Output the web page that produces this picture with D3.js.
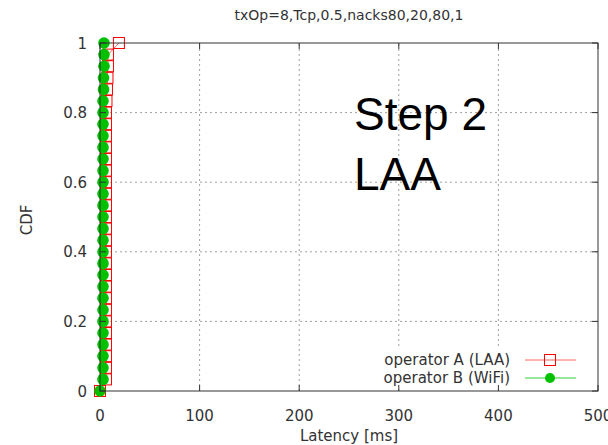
<!DOCTYPE html>
<html><head><meta charset="utf-8">
<script src="https://cdn.jsdelivr.net/npm/d3@7"></script>
<style>body{margin:0;background:#fff}svg{display:block}text{font-family:"DejaVu Sans",sans-serif;fill:#333}</style>
</head><body>
<script>
const title = "txOp=8,Tcp,0.5,nacks80,20,80,1";
const xTicks = [0,100,200,300,400,500];
const yTicks = [0,0.2,0.4,0.6,0.8,1];
const yTickLabels = ["0","0.2","0.4","0.6","0.8","1"];
const seriesNames = ["operator A (LAA)","operator B (WiFi)"];
const cdfLevels = d3.range(31).map(i=>i/30);
const laaLatency = [0,6,6,6,6,6,6,6,6,6,6,6,6,6,6,6,6,6,6,6,6,6,6,6,6,6.5,7,7.5,8,8,19];
const wifiLatency = [0,3,3,3,3,3,3,3,3,3,3,3,3,3,3,3,3,3,3,3,3,3,3,3,3,3,3.5,3.5,4,4,4];

const W=608,H=445;
const svg=d3.select("body").append("svg").attr("width",W).attr("height",H);
const x=d3.scaleLinear().domain([0,500]).range([100,598]);
const y=d3.scaleLinear().domain([0,1]).range([391,43]);

// grid
const g=svg.append("g");
g.selectAll("line.gx").data(xTicks.slice(1,-1)).enter().append("line")
 .attr("x1",d=>x(d)).attr("x2",d=>x(d)).attr("y1",y(0)).attr("y2",y(1))
 .attr("stroke","#a0a0a0").attr("stroke-dasharray","2,3");
g.selectAll("line.gy").data(yTicks.slice(1,-1)).enter().append("line")
 .attr("x1",x(0)).attr("x2",x(500)).attr("y1",d=>y(d)).attr("y2",d=>y(d))
 .attr("stroke","#a0a0a0").attr("stroke-dasharray","2,3");

// legend background
svg.append("rect").attr("x",376).attr("y",347).attr("width",220).attr("height",42).attr("fill","#fff");

// data
const laa=cdfLevels.map((c,i)=>[laaLatency[i],c]);
const wifi=cdfLevels.map((c,i)=>[wifiLatency[i],c]);
const line=d3.line().x(d=>x(d[0])).y(d=>y(d[1]));
svg.append("path").attr("d",line(laa)).attr("fill","none").attr("stroke","#ff0000").attr("stroke-opacity",0.6);
svg.selectAll("rect.laa").data(laa).enter().append("rect")
 .attr("x",d=>x(d[0])-5.5).attr("y",d=>y(d[1])-5.5).attr("width",11).attr("height",11)
 .attr("fill","none").attr("stroke","#ff0000");
svg.append("path").attr("d",line(wifi)).attr("fill","none").attr("stroke","#00c000").attr("stroke-opacity",0.8);
svg.selectAll("circle.wifi").data(wifi).enter().append("circle")
 .attr("cx",d=>x(d[0])).attr("cy",d=>y(d[1])).attr("r",5.8).attr("fill","#00c000");

// frame
svg.append("rect").attr("x",x(0)).attr("y",y(1)).attr("width",x(500)-x(0)).attr("height",y(0)-y(1))
 .attr("fill","none").attr("stroke","#333");
// ticks
const tk=svg.append("g").attr("stroke","#333");
xTicks.forEach(t=>{
  tk.append("line").attr("x1",x(t)).attr("x2",x(t)).attr("y1",y(0)).attr("y2",y(0)-6);
  tk.append("line").attr("x1",x(t)).attr("x2",x(t)).attr("y1",y(1)).attr("y2",y(1)+6);
});
yTicks.forEach(t=>{
  tk.append("line").attr("x1",x(0)).attr("x2",x(0)+6).attr("y1",y(t)).attr("y2",y(t));
  tk.append("line").attr("x1",x(500)).attr("x2",x(500)-6).attr("y1",y(t)).attr("y2",y(t));
});
// labels
svg.selectAll("text.xl").data(xTicks).enter().append("text")
 .attr("x",d=>x(d)).attr("y",421).attr("text-anchor","middle").attr("font-size",15).text(d=>d);
svg.selectAll("text.yl").data(yTicks).enter().append("text")
 .attr("x",87).attr("y",d=>y(d)+5.5).attr("text-anchor","end").attr("font-size",15).text((d,i)=>yTickLabels[i]);
svg.append("text").attr("x",349).attr("y",441).attr("text-anchor","middle").attr("font-size",15).text("Latency [ms]");
svg.append("text").attr("transform","translate(32,220) rotate(-90)").attr("text-anchor","middle").attr("font-size",15).text("CDF");
svg.append("text").attr("x",349).attr("y",20).attr("text-anchor","middle").attr("font-size",14).text(title);

// annotation
svg.append("text").attr("x",354).attr("y",130).style("font-family","'Liberation Sans', Arial, sans-serif").attr("font-size",46).style("fill","#000").text("Step 2");
svg.append("text").attr("x",354).attr("y",190).style("font-family","'Liberation Sans', Arial, sans-serif").attr("font-size",46).style("fill","#000").text("LAA");

// legend
const leg=[{name:seriesNames[0],y:360,c:"#ff0000"},{name:seriesNames[1],y:378,c:"#00c000"}];
leg.forEach((l,i)=>{
  svg.append("text").attr("x",510).attr("y",l.y+5).attr("text-anchor","end").attr("font-size",15).text(l.name);
  svg.append("line").attr("x1",525).attr("x2",576).attr("y1",l.y).attr("y2",l.y).attr("stroke",l.c).attr("stroke-opacity",i?0.8:0.6);
  if(i===0) svg.append("rect").attr("x",544.5).attr("y",l.y-5.5).attr("width",11).attr("height",11).attr("fill","none").attr("stroke",l.c);
  else svg.append("circle").attr("cx",550).attr("cy",l.y).attr("r",5).attr("fill",l.c);
});
</script>
</body></html>
